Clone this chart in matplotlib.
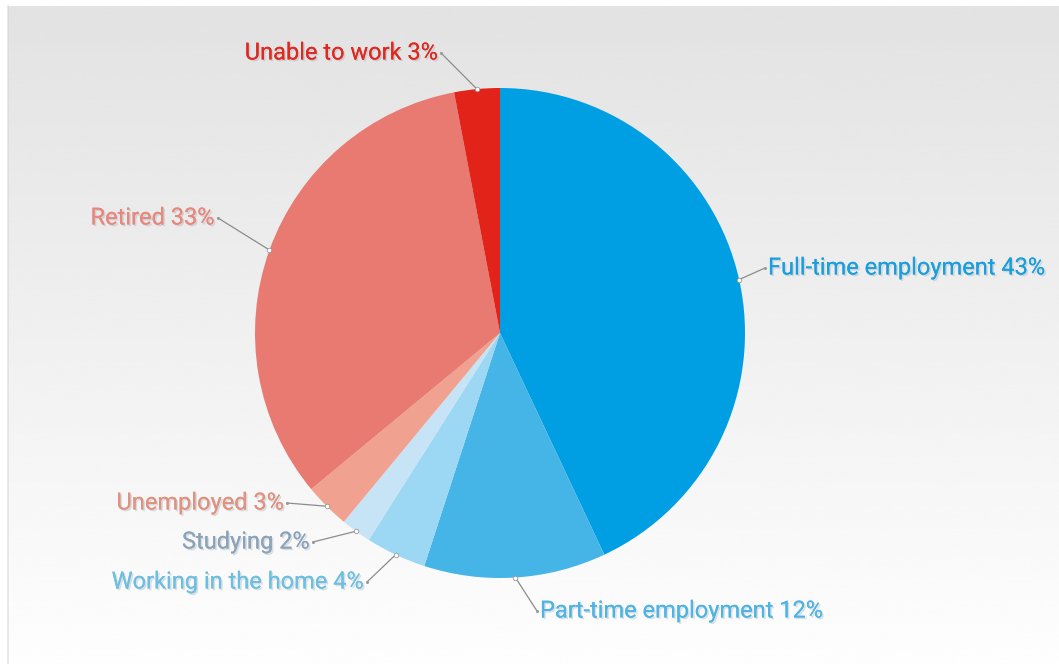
import numpy as np
import matplotlib
matplotlib.use("Agg")
import matplotlib.pyplot as plt
import matplotlib.patheffects as pe

# Employment status shares (%), clockwise from 12 o'clock
categories = ["Full-time employment", "Part-time employment", "Working in the home",
              "Studying", "Unemployed", "Retired", "Unable to work"]
shares = [43, 12, 4, 2, 3, 33, 3]

slice_colors = ["#009fe3", "#45b5e8", "#9cd8f4", "#c7e4f6", "#f1a18f", "#e87a71", "#e2231a"]
label_colors = ["#1a9fde", "#4db4e4", "#6dbfe2", "#8ba3b9", "#e0917f", "#e8877c", "#e0281f"]

# label end points (pixels, from top-left) and horizontal alignment
label_points = [(765, 268), (537, 611), (367, 582), (313, 542), (287, 503), (218, 218), (441, 53)]
label_align = ["left", "left", "right", "right", "right", "right", "right"]

W, H = 1059, 664
CX, CY, R = 500, 333, 245

fig = plt.figure(figsize=(W / 100, H / 100), dpi=100)
fig.patch.set_facecolor("white")

# grey-to-white backdrop panel
bg = fig.add_axes([0, 0, 1, 1])
bg.set_xlim(0, W)
bg.set_ylim(H, 0)
bg.axis("off")
grad = np.linspace(0.888, 0.995, 256)[:, None] * np.ones((1, 2))
bg.imshow(grad, cmap="gray", vmin=0, vmax=1, extent=(8, W, H, 6),
          aspect="auto", interpolation="bicubic")
bg.plot([8, 8], [6, H], color="#d4d4d4", lw=1.2, alpha=0.6)

ax = fig.add_axes([0, 0, 1, 1])
ax.set_xlim(0, W)
ax.set_ylim(0, H)
ax.axis("off")
ax.patch.set_alpha(0)

wedges, _ = ax.pie(shares, colors=slice_colors, startangle=90, counterclock=False,
                   radius=R, center=(CX, H - CY), frame=True,
                   wedgeprops=dict(linewidth=0.4, edgecolor="none", antialiased=True))
ax.set_xlim(0, W)
ax.set_ylim(0, H)
ax.set_aspect("equal")
ax.axis("off")

shadow = [pe.withSimplePatchShadow(offset=(1.2, -1.2), shadow_rgbFace="#7a8a99", alpha=0.25),
          pe.Normal()]

for w, name, val, col, (lx, ly), ha in zip(wedges, categories, shares, label_colors,
                                           label_points, label_align):
    mid = np.deg2rad((w.theta1 + w.theta2) / 2)
    ex = CX + R * np.cos(mid)
    ey = (H - CY) + R * np.sin(mid)
    ty = H - ly
    ax.plot([ex, lx], [ey, ty], color="#8c8c8c", lw=0.9, zorder=5)
    ax.plot([ex], [ey], marker="o", ms=3.2, mfc="white", mec="#9a9a9a", mew=0.6, zorder=6)
    ax.plot([lx], [ty], marker="o", ms=2.2, mfc="#9a9a9a", mec="none", zorder=6)
    tx = lx + (3 if ha == "left" else -3)
    ax.text(tx, ty, f"{name} {val}%", color=col, fontsize=17, family="Roboto",
            ha=ha, va="center", zorder=7, path_effects=shadow)

fig.savefig("out.png", dpi=100)
